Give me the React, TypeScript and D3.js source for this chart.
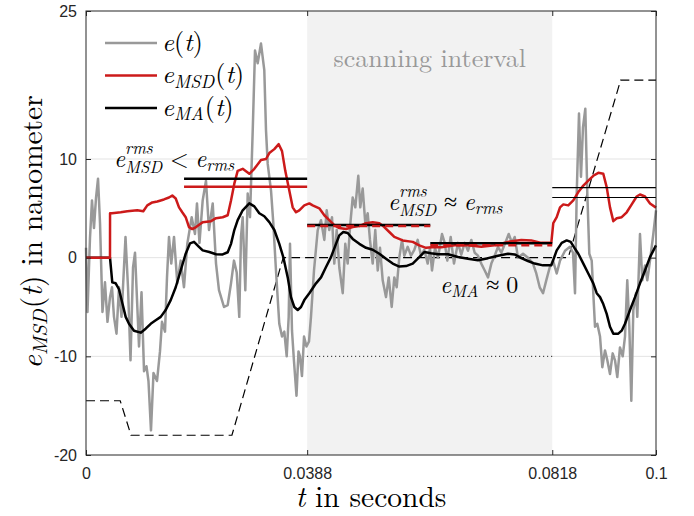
import { useRef, useEffect } from "react";
import * as d3 from "d3";

// time in milliseconds, value in nanometer
const eSignal: [number, number][] = [
  [0, 1.0], [0.26, -5.5], [0.7, 2.0], [1.05, 5.8], [1.4, 3.0], [1.75, 6.0], [2.11, 8.0], [2.46, 3.5],
  [2.89, -5.5], [3.33, -2.5], [3.77, -6.5], [4.21, -4.0], [4.56, -3.0], [4.91, -6.0], [5.35, -7.7],
  [5.79, -3.0], [6.23, -6.0], [6.93, 2.1], [7.37, -3.0], [7.81, -10.4], [8.25, -1.0], [8.6, 0.5],
  [9.3, -9.0], [9.74, -3.5], [10.18, -11.5], [10.61, -11.0], [10.96, -12.5], [11.4, -17.5],
  [11.84, -11.7], [12.46, -12.5], [12.98, -9.5], [13.33, -6.5], [13.86, -7.5], [14.21, -2.0],
  [14.56, 2.1], [14.96, -0.6], [15.44, 2.1], [16.02, -2.6], [16.61, -0.3], [17.19, -3.0], [17.77, 1.4],
  [18.54, 4.1], [19.12, 2.4], [19.47, 5.5], [19.91, 1.5], [20.47, 5.8], [21.05, 7.8], [21.58, 2.8],
  [22.23, 5.5], [22.81, -0.6], [23.33, -3.3], [24.21, -5.0], [24.86, -4.8], [25.44, -2.6], [25.96, -0.3],
  [26.44, -1.5], [26.89, -6.0], [27.19, 2.1], [27.49, 4.1], [27.95, -3.3], [28.37, 6.5], [28.77, 4.1],
  [29.25, 12.9], [29.65, 21.0], [30.12, 19.7], [30.7, 21.7], [31.28, 19.0], [31.58, 12.9], [31.88, 9.5],
  [32.46, 6.8], [32.86, 3.5], [33.33, -1.3], [33.91, -6.7], [34.39, -8.0], [34.79, -7.5], [35.21, -10.0],
  [35.56, -6.0], [35.79, 1.4], [36.14, -7.4], [36.49, -10.5], [36.93, -14.0], [37.28, -9.5], [37.54, -10.0],
  [37.89, -12.0], [38.25, -8.0], [38.68, -9.0], [39.12, -8.5], [39.47, -6.0], [40.0, -1.3], [40.65, 2.8],
  [41.23, 3.8], [41.81, 1.8], [42.23, 4.8], [42.68, 2.8], [43.16, 4.1], [43.56, -0.6], [43.98, 2.8],
  [44.44, -1.0], [45.04, -3.6], [45.49, 1.4], [45.91, -0.6], [46.32, 3.1], [46.79, 6.1], [47.25, 5.1],
  [47.77, 8.3], [48.12, 5.1], [48.54, 7.0], [49.0, 3.5], [49.42, 4.5], [49.82, 1.8], [50.3, -0.6],
  [50.75, 2.8], [51.18, -1.3], [51.58, 1.0], [52.05, -2.3], [52.63, -4.0], [53.11, -2.0], [53.63, -5.0],
  [54.09, -2.0], [54.51, -3.0], [54.96, 0.0], [55.44, 1.8], [55.84, 0.2], [56.44, 1.1], [57.02, 0.2],
  [57.6, 0.8], [58.19, 1.8], [58.77, 0.2], [59.35, 0.8], [59.95, -0.6], [60.35, 1.0], [60.7, -1.3],
  [61.23, 1.0], [61.75, 0.0], [62.46, 2.4], [62.93, 1.5], [63.39, -0.3], [63.98, 2.1], [64.56, -0.6],
  [65.26, 1.5], [65.84, 0.3], [66.44, 1.5], [67.02, 0.7], [67.6, 1.8], [68.19, 0.5], [68.77, 0.2],
  [69.35, -0.6], [69.95, -1.3], [70.53, -2.0], [71.11, -0.6], [71.7, 0.2], [72.28, 1.1], [72.86, 0.5],
  [73.56, 1.5], [74.16, 2.4], [74.74, 1.5], [75.21, 2.1], [75.79, 0.0], [76.67, 0.4], [77.54, 0.0],
  [78.42, -0.6], [79.0, -1.6], [79.6, -3.0], [80.18, -3.6], [80.75, -2.3], [81.35, -1.0], [81.93, -0.3],
  [82.58, -1.6], [83.16, -0.3], [84.04, 0.7], [84.91, 1.1], [85.44, 0.5], [85.79, -3.6], [86.09, 6.5],
  [86.49, 14.6], [86.84, 8.2], [87.19, 13.2], [87.6, 15.1], [87.95, 6.5], [88.3, 0.4], [88.72, -0.3],
  [89.0, -3.6], [89.3, -7.0], [89.7, -6.7], [90.18, -8.0], [90.58, -11.1], [91.05, -9.4], [91.46, -10.4],
  [91.93, -11.8], [92.4, -9.7], [92.81, -10.4], [93.21, -12.1], [93.68, -9.1], [94.16, -10.0], [94.56, -8.0],
  [94.96, -2.3], [95.32, -7.0], [95.67, -14.5], [96.02, -5.3], [96.49, -3.6], [96.72, -6.0], [97.19, 2.4],
  [97.6, -2.3], [98.07, -0.8], [98.47, -2.3], [98.95, -0.3], [99.53, 2.4], [100, 4.8],
];

const eMSD: [number, number][] = [
  [0, 0], [4.21, 0], [4.22, 4.5], [4.56, 4.5], [6.09, 4.6], [7.25, 4.7], [9.0, 4.8], [10.05, 4.7],
  [10.75, 5.3], [11.63, 5.6], [12.51, 5.7], [13.68, 5.9], [14.56, 6.1], [15.14, 6.3], [15.74, 6.0],
  [16.32, 5.1], [16.89, 4.6], [17.49, 4.1], [18.07, 3.1], [18.65, 2.9], [19.3, 3.1], [20.47, 3.6],
  [21.93, 3.7], [22.81, 4.0], [23.98, 4.1], [24.86, 4.3], [25.44, 5.8], [26.02, 7.5], [26.61, 8.8],
  [27.49, 9.0], [28.65, 8.5], [29.53, 9.0], [30.7, 9.9], [31.58, 10.0], [32.16, 10.6], [33.04, 11.0],
  [33.81, 11.5], [34.39, 10.8], [34.96, 8.8], [35.56, 7.1], [36.26, 5.1], [36.84, 4.6], [37.42, 4.8],
  [38.3, 5.3], [39.18, 5.5], [39.77, 5.3], [40.93, 5.0], [41.81, 4.3], [42.68, 3.8], [43.56, 3.3],
  [44.44, 3.0], [45.61, 2.9], [46.79, 3.1], [47.95, 3.2], [49.12, 3.5], [50.3, 3.6], [51.46, 3.5],
  [52.33, 3.1], [53.21, 2.6], [54.09, 2.1], [55.56, 1.75], [57.32, 1.6], [58.47, 1.25], [59.65, 1.0],
  [60.7, 1.05], [62.33, 1.05], [64.68, 1.25], [67.02, 1.25], [69.35, 1.1], [71.7, 1.25], [74.04, 1.6],
  [76.37, 1.8], [78.12, 1.75], [79.88, 1.5], [81.63, 1.5], [81.98, 3.5], [82.58, 4.1], [83.16, 5.1],
  [83.74, 5.4], [84.61, 5.3], [85.49, 5.8], [86.37, 6.65], [87.25, 7.3], [88.12, 7.8], [89.0, 8.3],
  [89.88, 8.6], [90.75, 8.5], [91.35, 7.15], [91.93, 5.1], [92.51, 3.7], [93.11, 4.0], [93.98, 4.1],
  [94.86, 4.6], [95.74, 5.4], [96.61, 6.2], [97.19, 6.4], [98.07, 6.2], [98.95, 5.5], [100, 5.07],
];

const eMA: [number, number][] = [
  [0, 0], [4.21, 0], [4.61, -2.5], [5.21, -2.6], [5.79, -3.2], [6.37, -4.6], [6.96, -6.0], [7.54, -6.7],
  [8.42, -7.4], [9.6, -7.6], [10.47, -7.2], [11.35, -6.7], [12.23, -6.35], [13.11, -6.0], [13.98, -5.3],
  [14.86, -4.3], [15.74, -3.0], [16.61, -1.3], [17.49, 0.4], [18.25, 1.45], [18.95, 1.6], [19.82, 1.1],
  [20.47, 0.74], [21.63, 0.57], [22.81, 0.35], [23.98, 0.33], [24.86, 0.55], [25.44, 1.4], [26.02, 2.8],
  [26.61, 3.8], [27.49, 4.8], [28.65, 5.5], [29.53, 5.2], [30.4, 4.5], [31.28, 4.2], [32.16, 3.6],
  [33.04, 2.8], [33.91, 1.4], [34.61, 0.06], [35.39, -2.0], [35.96, -4.0], [36.54, -5.0], [37.14, -5.3],
  [37.72, -5.0], [38.3, -4.3], [39.18, -3.6], [40.35, -2.6], [41.23, -2.0], [42.11, -0.95], [42.98, 0.06],
  [43.86, 1.4], [44.44, 2.26], [45.14, 2.6], [45.91, 2.5], [46.79, 1.9], [47.95, 1.4], [49.12, 1.0],
  [50.3, 0.8], [51.46, 0.4], [52.63, -0.1], [53.81, -0.6], [54.96, -0.9], [56.14, -0.85], [57.32, -0.6],
  [58.47, 0.06], [59.35, 0.57], [60.53, 0.45], [61.75, 0.35], [63.51, 0.35], [65.26, 0.06], [67.02, -0.1],
  [68.77, -0.27], [70.53, -0.05], [72.28, 0.2], [74.04, 0.4], [75.21, 0.33], [76.37, -0.05], [77.54, -0.34],
  [78.72, -0.6], [80.18, -0.78], [81.63, -0.78], [81.93, -0.3], [82.58, 0.74], [83.46, 1.5], [84.33, 1.75],
  [85.04, 1.6], [85.79, 0.9], [86.37, 0.4], [87.25, -0.6], [88.12, -1.6], [89.0, -2.6], [89.6, -3.6],
  [90.18, -4.0], [90.75, -4.7], [91.35, -5.7], [91.93, -7.0], [92.51, -7.7], [93.39, -7.7], [93.98, -7.4],
  [94.56, -6.7], [95.44, -5.3], [96.32, -4.0], [97.19, -2.6], [98.07, -1.3], [98.95, 0.06], [100, 1.25],
];

// dashed reference path
const trajectory: [number, number][] = [
  [0, -14.5], [6.0, -14.5], [7.9, -18], [25.6, -18], [34.6, 0], [84.6, 0], [93.8, 18], [100, 18],
];

const scanInterval = [0.0388, 0.0818];
const xTicks = [0, 0.0388, 0.0818, 0.1];
const yTicks = [-20, -10, 0, 10, 25];
const gridLevels = [-10, 0, 10];
const dottedLevel = -10;

// rms levels per section (ms spans)
const rmsSpans: [number, number][] = [[17.2, 38.8], [38.8, 60.4], [60.4, 81.8], [81.8, 100]];
const eRmsLevels = [8.0, 3.3, 1.45, 7.1];
const eMsdRmsLevels = [7.2, 3.2, 1.25, 6.1];

const SERIF = '"Latin Modern Roman", "Liberation Serif", serif';
const SANS = '"Liberation Sans", Arial, sans-serif';
const GRAY = "#999999";
const RED = "#cc1a1a";

type Piece = { text?: string; italic?: boolean; sub?: string; sup?: string; gap?: number };

// one <text> per label; pieces placed as tspans, measured as they go
function drawMath(parent: any, x: number, y: number, pieces: Piece[], size: number, color: string, anchor = "start") {
  const txt = parent.append("text").style("font-family", SERIF).attr("fill", color).attr("font-size", size);
  let cx = 0;
  const span = (s: string, px: number, py: number, fs: number, italic: boolean) => {
    const t = txt.append("tspan").attr("x", px).attr("y", py).attr("font-size", fs)
      .attr("font-style", italic ? "italic" : "normal").text(s);
    return t.node().getComputedTextLength();
  };
  pieces.forEach((p) => {
    if (p.gap) cx += p.gap * size;
    if (p.text !== undefined) cx += span(p.text, cx, 0, size, !!p.italic);
    if (p.sub || p.sup) {
      let w = 0;
      const both = p.sub && p.sup;
      if (p.sup) w = Math.max(w, span(p.sup, cx, -size * 0.55, size * 0.7, true));
      if (p.sub) w = Math.max(w, span(p.sub, cx, size * (both ? 0.25 : 0.18), size * 0.7, true));
      cx += w + size * 0.04;
    }
  });
  const shift = anchor === "middle" ? -cx / 2 : anchor === "end" ? -cx : 0;
  txt.attr("transform", `translate(${x + shift},${y})`);
  return cx;
}

export default function App() {
  const svgRef = useRef<SVGSVGElement>(null);

  useEffect(() => {
    const width = 694;
    const height = 516;
    const MARGIN = { top: 11, right: 38, bottom: 61, left: 86 };

    const svg = d3.select(svgRef.current);
    svg.selectAll("*").remove();

    const x = d3.scaleLinear().domain([0, 0.1]).range([MARGIN.left, width - MARGIN.right]);
    const y = d3.scaleLinear().domain([-20, 25]).range([height - MARGIN.bottom, MARGIN.top]);
    const xm = (ms: number) => x(ms / 1000);

    svg.append("rect").attr("width", width).attr("height", height).attr("fill", "#fff");

    // grid
    svg.append("g").selectAll("line").data(gridLevels).join("line")
      .attr("x1", x(0)).attr("x2", x(0.1))
      .attr("y1", (d) => y(d)).attr("y2", (d) => y(d))
      .attr("stroke", "#e3e3e3").attr("stroke-width", 1);

    // scanning interval
    svg.append("rect")
      .attr("x", x(scanInterval[0])).attr("width", x(scanInterval[1]) - x(scanInterval[0]))
      .attr("y", y(25)).attr("height", y(-20) - y(25))
      .attr("fill", "#f2f2f2");

    svg.append("line")
      .attr("x1", x(scanInterval[0])).attr("x2", x(scanInterval[1]))
      .attr("y1", y(dottedLevel)).attr("y2", y(dottedLevel))
      .attr("stroke", "#000").attr("stroke-width", 1).attr("stroke-dasharray", "1,3");

    const line = d3.line<[number, number]>().x((d) => xm(d[0])).y((d) => y(d[1]));

    svg.append("path").attr("d", line(trajectory)).attr("fill", "none")
      .attr("stroke", "#000").attr("stroke-width", 1.2).attr("stroke-dasharray", "9,5");

    svg.append("path").attr("d", line(eSignal)).attr("fill", "none")
      .attr("stroke", GRAY).attr("stroke-width", 2.5).attr("stroke-linejoin", "round");
    svg.append("path").attr("d", line(eMA)).attr("fill", "none")
      .attr("stroke", "#000").attr("stroke-width", 2.5).attr("stroke-linejoin", "round");
    svg.append("path").attr("d", line(eMSD)).attr("fill", "none")
      .attr("stroke", RED).attr("stroke-width", 2.5).attr("stroke-linejoin", "round");

    // rms levels
    rmsSpans.forEach((span, i) => {
      const thin = i === 3;
      const dashed = i === 1 || i === 2;
      svg.append("line")
        .attr("x1", xm(span[0])).attr("x2", xm(span[1]))
        .attr("y1", y(eRmsLevels[i])).attr("y2", y(eRmsLevels[i]))
        .attr("stroke", "#000").attr("stroke-width", thin ? 1.2 : 2.5);
      svg.append("line")
        .attr("x1", xm(span[0])).attr("x2", xm(span[1]))
        .attr("y1", y(eMsdRmsLevels[i])).attr("y2", y(eMsdRmsLevels[i]))
        .attr("stroke", thin ? "#000" : RED).attr("stroke-width", thin ? 1.2 : 2.5)
        .attr("stroke-dasharray", dashed ? "8,5" : null);
    });

    // axes
    const styleAxis = (g: any) => {
      g.select(".domain").remove();
      g.selectAll(".tick line").attr("stroke", "#262626");
      g.selectAll(".tick text").attr("fill", "#262626").attr("font-size", 16).style("font-family", SANS);
    };
    const fmt = (d: any) => (d === 0 ? "0" : String(d));
    svg.append("g").attr("transform", `translate(0,${y(-20)})`)
      .call(d3.axisBottom(x).tickValues(xTicks).tickSize(-5).tickPadding(13).tickFormat(fmt)).call(styleAxis);
    svg.append("g").attr("transform", `translate(0,${y(25)})`)
      .call(d3.axisTop(x).tickValues(xTicks).tickSize(-5).tickFormat(() => "")).call(styleAxis);
    svg.append("g").attr("transform", `translate(${x(0)},0)`)
      .call(d3.axisLeft(y).tickValues(yTicks).tickSize(-5).tickPadding(9).tickFormat(fmt)).call(styleAxis);
    svg.append("g").attr("transform", `translate(${x(0.1)},0)`)
      .call(d3.axisRight(y).tickValues(yTicks).tickSize(-5).tickFormat(() => "")).call(styleAxis);

    svg.append("rect")
      .attr("x", x(0)).attr("y", y(25)).attr("width", x(0.1) - x(0)).attr("height", y(-20) - y(25))
      .attr("fill", "none").attr("stroke", "#262626").attr("stroke-width", 1);

    // text
    svg.append("text").attr("x", (x(scanInterval[0]) + x(scanInterval[1])) / 2).attr("y", 67)
      .attr("text-anchor", "middle").style("font-family", SERIF).attr("font-size", 26)
      .attr("fill", "#999999").text("scanning interval");

    const legend = [
      { color: GRAY, pieces: [{ text: "e", italic: true }, { text: "(" }, { text: "t", italic: true }, { text: ")" }] },
      { color: RED, pieces: [{ text: "e", italic: true }, { sub: "MSD" }, { text: "(" }, { text: "t", italic: true }, { text: ")" }] },
      { color: "#000", pieces: [{ text: "e", italic: true }, { sub: "MA" }, { text: "(" }, { text: "t", italic: true }, { text: ")" }] },
    ];
    legend.forEach((item, i) => {
      const ly = 43 + i * 32.5;
      svg.append("line").attr("x1", 105).attr("x2", 157).attr("y1", ly).attr("y2", ly)
        .attr("stroke", item.color).attr("stroke-width", 2.5);
      drawMath(svg, 162, ly + 7.5, item.pieces, 26, "#000");
    });

    drawMath(svg, 114, 167, [
      { text: "e", italic: true }, { sup: "rms", sub: "MSD" }, { gap: 0.28, text: "<" },
      { gap: 0.28, text: "e", italic: true }, { sub: "rms" },
    ], 24, "#000");
    drawMath(svg, 388, 210, [
      { text: "e", italic: true }, { sup: "rms", sub: "MSD" }, { gap: 0.28, text: "≈" },
      { gap: 0.28, text: "e", italic: true }, { sub: "rms" },
    ], 24, "#000");
    drawMath(svg, 440, 293, [
      { text: "e", italic: true }, { sub: "MA" }, { gap: 0.28, text: "≈" }, { gap: 0.28, text: "0" },
    ], 24, "#000");

    drawMath(svg, 371, 507, [{ text: "t", italic: true }, { gap: 0.33, text: "in seconds" }], 29.5, "#000", "middle");

    const yl = svg.append("g").attr("transform", `translate(42,${232}) rotate(-90)`);
    drawMath(yl, 0, 0, [
      { text: "e", italic: true }, { sub: "MSD" }, { text: "(" }, { text: "t", italic: true }, { text: ")" },
      { gap: 0.33, text: "in nanometer" },
    ], 29.5, "#000", "middle");
  }, []);

  return (
    <svg ref={svgRef} width={694} height={516} style={{ position: "absolute", left: 0, top: 0 }}></svg>
  );
}
